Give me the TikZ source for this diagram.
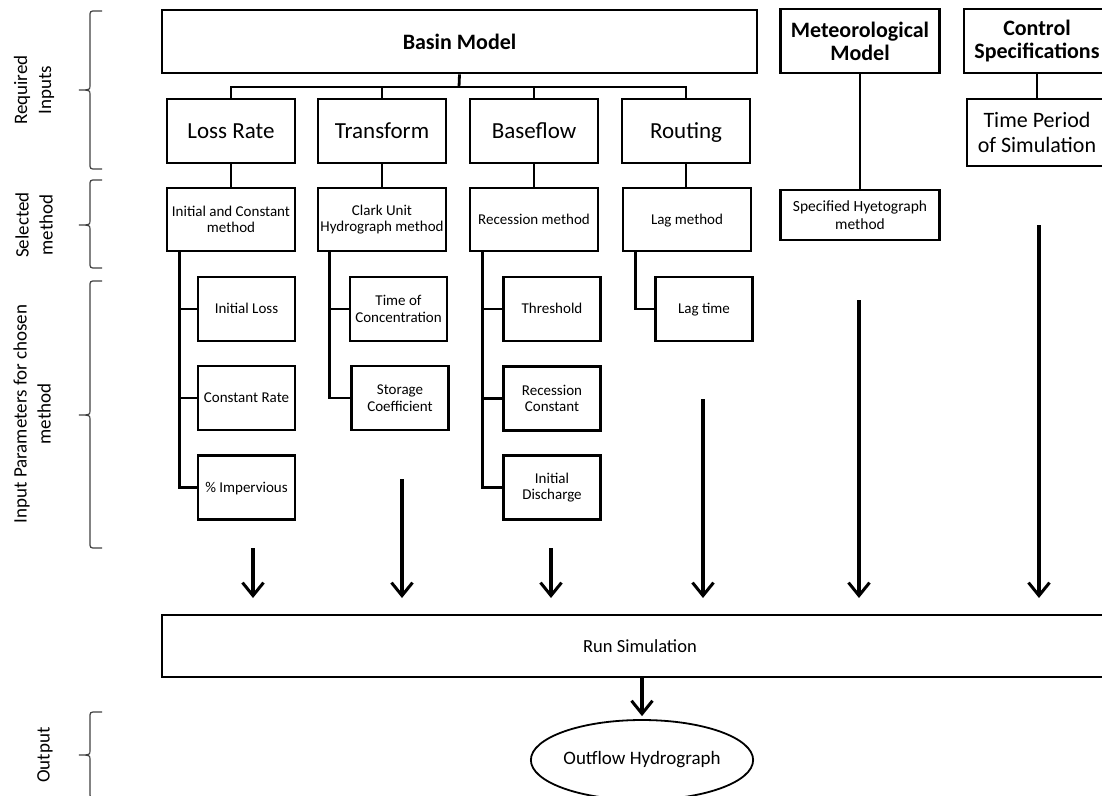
\documentclass[tikz,border=0pt]{standalone}
\usepackage{fontspec}
\setmainfont{Carlito}
\usepackage{tikz}
\usetikzlibrary{arrows.meta, positioning, shapes.geometric, calc}

\begin{document}
\begin{tikzpicture}[
    x=1pt, y=-1pt,
    box/.style={rectangle, draw=black, line width=2.8pt, align=center, fill=white, inner sep=1pt, font=\fontsize{22}{25}\selectfont},
    headbox/.style={box, font=\fontsize{22}{23}\selectfont\bfseries},
    methbox/.style={box, minimum width=128pt, minimum height=63pt, font=\fontsize{15}{16.5}\selectfont},
    parbox/.style={box, minimum width=97pt, minimum height=64pt, font=\fontsize{15}{16.5}\selectfont},
    compbox/.style={box, minimum width=128pt, minimum height=64pt, font=\fontsize{23}{25}\selectfont},
    oneline/.style={text height=#1, text depth=1.5pt},
    link/.style={line width=2.8pt},
    arrow/.style={line width=3.2pt, -{Straight Barb[length=13pt, width=21pt, line width=3pt]}},
    sidebrace/.style={draw=black!75, line width=1.2pt},
    sidelabel/.style={rotate=90, align=center, font=\fontsize{19}{24}\selectfont}
]
\clip (0,0) rectangle (1102,795);
\useasboundingbox (0,0) rectangle (1102,795);

% =============================================================
% Left braces and row labels
% =============================================================
\foreach \a/\m/\b in {11/90/169, 180/225/268, 281/415/548, 712/755/798}
    \draw[sidebrace] (102,\a) -- (96,\a) .. controls (90,\a) .. (90,\a+6) -- (90,\m-5)
        .. controls (90,\m) .. (79,\m) .. controls (90,\m) .. (90,\m+5)
        -- (90,\b-6) .. controls (90,\b) .. (96,\b) -- (102,\b);
\node[sidelabel] (lblreq) at (34,90) {Required\\Inputs};
\node[sidelabel] (lblsel) at (34,225) {Selected\\method};
\node[sidelabel] (lblpar) at (32,414) {Input Parameters for chosen\\method};
\node[sidelabel] (lblout) at (45,755) {Output};

% =============================================================
% Row 1: models and components
% =============================================================
\node[headbox, minimum width=595pt, minimum height=63pt] (basin) at (459.5,41.5) {Basin Model};
\node[headbox, minimum width=159pt, minimum height=64pt] (meteo) at (860,41) {Meteorological\\Model};
\node[headbox, minimum width=146pt, minimum height=64pt] (control) at (1037,41) {Control\\Specifications};

\node[compbox, oneline=17pt] (loss) at (231,131) {Loss Rate};
\node[compbox, oneline=17pt] (transform) at (382,131) {Transform};
\node[compbox, oneline=17pt] (baseflow) at (534,131) {Baseflow};
\node[compbox, oneline=17pt] (routing) at (686,131) {Routing};
\node[box, minimum width=140pt, minimum height=67pt] (period) at (1037,132.5) {Time Period\\of Simulation};

\coordinate (bus) at (459,87);
\draw[link] (basin.south) -- (bus);
\draw[link] (loss.north) -- (loss.north |- bus) -- (routing.north |- bus) -- (routing.north);
\draw[link] (transform.north) -- (transform.north |- bus);
\draw[link] (baseflow.north) -- (baseflow.north |- bus);

% =============================================================
% Row 2: selected methods
% =============================================================
\node[methbox] (initm) at (231,219.5) {Initial and Constant\\method};
\node[methbox] (clarkm) at (382,219.5) {Clark Unit\\Hydrograph method};
\node[methbox, oneline=11pt] (recm) at (534,219.5) {Recession method};
\node[methbox, oneline=11pt] (lagm) at (687,219.5) {Lag method};
\node[box, minimum width=159pt, minimum height=50pt, font=\fontsize{15.5}{18}\selectfont] (hyeto) at (860,215) {Specified Hyetograph\\method};

\draw[link] (loss) -- (initm);
\draw[link] (transform) -- (clarkm);
\draw[link] (baseflow) -- (recm);
\draw[link] (routing.south) -- (routing.south |- lagm.north);
\draw[link] (meteo) -- (hyeto);
\draw[link] (control) -- (period);

% =============================================================
% Row 3: input parameters
% =============================================================
\node[parbox, oneline=11pt] (iloss) at (246.5,309) {Initial Loss};
\node[parbox, oneline=11pt] (crate) at (246.5,398) {Constant Rate};
\node[parbox, oneline=11pt] (imperv) at (246.5,487.5) {\% Impervious};

\node[parbox] (tconc) at (398.5,309) {Time of\\Concentration};
\node[parbox] (storage) at (400,398) {Storage\\Coefficient};

\node[parbox, oneline=11pt] (thresh) at (552,309) {Threshold};
\node[parbox] (reccon) at (552,398.5) {Recession\\Constant};
\node[parbox] (idisch) at (552,487.5) {Initial\\Discharge};

\node[parbox, oneline=11pt] (lagt) at (704,309) {Lag time};

\draw[link] ([xshift=14pt]initm.south west) |- (imperv.west);
\draw[link] ([xshift=14pt]initm.south west |- iloss.west) -- (iloss.west);
\draw[link] ([xshift=14pt]initm.south west |- crate.west) -- (crate.west);
\draw[link] ([xshift=13pt]clarkm.south west) |- (storage.west);
\draw[link] ([xshift=13pt]clarkm.south west |- tconc.west) -- (tconc.west);
\draw[link] ([xshift=14pt]recm.south west) |- (idisch.west);
\draw[link] ([xshift=14pt]recm.south west |- thresh.west) -- (thresh.west);
\draw[link] ([xshift=14pt]recm.south west |- reccon.west) -- (reccon.west);
\draw[link] ([xshift=14pt]lagm.south west) |- (lagt.west);

% =============================================================
% Run simulation and output
% =============================================================
\node[box, oneline=13.5pt, minimum width=956pt, minimum height=62pt, font=\fontsize{18.5}{20}\selectfont] (run) at (640,646) {Run Simulation};
\node[ellipse, draw=black, line width=1.8pt, minimum width=222pt, minimum height=80pt, inner sep=0pt, font=\fontsize{19}{20}\selectfont] (outflow) at (642,760) {Outflow Hydrograph};

\coordinate (tipline) at (0,598);
\coordinate (s1) at (253,548);
\coordinate (s2) at (402,479);
\coordinate (s3) at (551,548);
\coordinate (s4) at (703,399);
\coordinate (s5) at (859,300);
\coordinate (s6) at (1039,225);
\foreach \s in {s1,s2,s3,s4,s5,s6}
    \draw[arrow] (\s) -- (\s |- tipline);

\draw[arrow, shorten >=3pt] (run.south -| outflow.north) -- (outflow.north);

\end{tikzpicture}
\end{document}
